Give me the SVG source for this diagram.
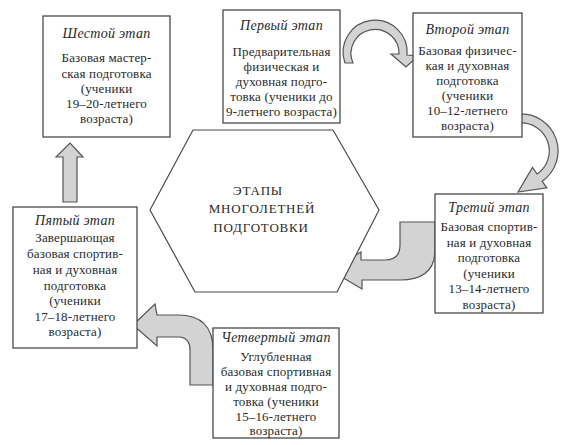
<svg xmlns="http://www.w3.org/2000/svg" width="570" height="445" viewBox="0 0 570 445">
<style>
.box{fill:#fff;stroke:#4a4a4a;stroke-width:1.3}
.hex{fill:#fff;stroke:#4a4a4a;stroke-width:1.2}
.arr{fill:#d3d3d3;stroke:#555;stroke-width:1.2;stroke-linejoin:miter}
text{font-family:"Liberation Serif","Times New Roman",serif;fill:#2a2a2a;text-anchor:middle}
.t{font-style:italic;font-size:14px;letter-spacing:0.3px}
.b{font-size:13px;letter-spacing:0.15px}
.h{font-size:13px;letter-spacing:0.8px}
</style>
<rect x="0" y="0" width="570" height="445" fill="#fff"/>
<g id="connectors">
<path class="arr" d="M345,63 A32,32 0 1 1 407,55 L418,56 L406,67 L391,54 L399,54 A24,24 0 1 0 353,63 Z"/>
<path class="arr" d="M519,114 A37,37 0 0 1 542.2,181.3 L546.8,187.9 L518,192 L532.5,167.4 L537.1,174 A28,28 0 0 0 519,123 Z"/>
<path class="arr" d="M400,222 L435,222 L435,250 Q435,280 400,280 L362,280 L362,289 L330,270 L361,252 L361,260 L385,260 Q400,260 400,245 Z"/>
<path class="arr" d="M190,385 L213,385 L213,350 Q213,315 178,315 L157,315 L155,304 L133,325 L157,346 L157,337 L180,337 Q190,338 190,350 Z"/>
<path class="arr" d="M63,202 L77,202 L77,157 L83,157 L70,143 L56,157 L63,157 Z"/>
</g>
<g id="center">
<polygon class="hex" points="193,130 333,130 379,210 337,292 195,292 150,210"/>
<text class="h" x="258" y="194.5">ЭТАПЫ</text>
<text class="h" x="262" y="213">МНОГОЛЕТНЕЙ</text>
<text class="h" x="261" y="231.5">ПОДГОТОВКИ</text>
</g>
<g id="stage6">
<rect class="box" x="43" y="16" width="127" height="121"/>
<text class="t" x="106.5" y="38">Шестой этап</text>
<text class="b" x="106.5" y="62">Базовая мастер-</text>
<text class="b" x="106.5" y="78">ская подготовка</text>
<text class="b" x="106.5" y="93">(ученики</text>
<text class="b" x="106.5" y="108">19–20-летнего</text>
<text class="b" x="106.5" y="123">возраста)</text>
</g>
<g id="stage1">
<rect class="box" x="223" y="10" width="117" height="113"/>
<text class="t" x="281.5" y="30">Первый этап</text>
<text class="b" x="281.5" y="56">Предварительная</text>
<text class="b" x="281.5" y="71">физическая и</text>
<text class="b" x="281.5" y="86">духовная подго-</text>
<text class="b" x="281.5" y="101">товка (ученики до</text>
<text class="b" x="281.5" y="116">9-летнего возраста)</text>
</g>
<g id="stage2">
<rect class="box" x="413" y="13" width="109" height="124"/>
<text class="t" x="467.5" y="34">Второй этап</text>
<text class="b" x="467.5" y="55">Базовая физичес-</text>
<text class="b" x="467.5" y="70">кая и духовная</text>
<text class="b" x="467.5" y="85">подготовка</text>
<text class="b" x="467.5" y="100">(ученики</text>
<text class="b" x="467.5" y="115">10–12-летнего</text>
<text class="b" x="467.5" y="130">возраста)</text>
</g>
<g id="stage3">
<rect class="box" x="435" y="194" width="108" height="119"/>
<text class="t" x="489" y="212">Третий этап</text>
<text class="b" x="489" y="231">Базовая спортив-</text>
<text class="b" x="489" y="246.5">ная и духовная</text>
<text class="b" x="489" y="262">подготовка</text>
<text class="b" x="489" y="277.5">(ученики</text>
<text class="b" x="489" y="293">13–14-летнего</text>
<text class="b" x="489" y="308.5">возраста)</text>
</g>
<g id="stage4">
<rect class="box" x="213" y="328" width="126" height="110"/>
<text class="t" x="276" y="342">Четвертый этап</text>
<text class="b" x="276" y="361">Углубленная</text>
<text class="b" x="276" y="376">базовая спортивная</text>
<text class="b" x="276" y="391">и духовная подго-</text>
<text class="b" x="276" y="406">товка (ученики</text>
<text class="b" x="276" y="421">15–16-летнего</text>
<text class="b" x="276" y="435">возраста)</text>
</g>
<g id="stage5">
<rect class="box" x="13" y="207" width="124" height="141"/>
<text class="t" x="75" y="225">Пятый этап</text>
<text class="b" x="75" y="242">Завершающая</text>
<text class="b" x="75" y="258">базовая спортив-</text>
<text class="b" x="75" y="274">ная и духовная</text>
<text class="b" x="75" y="289.5">подготовка</text>
<text class="b" x="75" y="305">(ученики</text>
<text class="b" x="75" y="320.5">17–18-летнего</text>
<text class="b" x="75" y="336">возраста)</text>
</g>
</svg>
